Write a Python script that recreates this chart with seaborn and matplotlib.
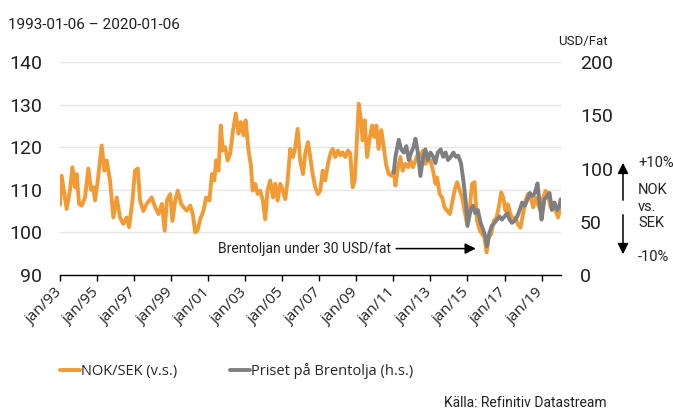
import matplotlib
matplotlib.use("Agg")
import pandas as pd
import matplotlib.pyplot as plt
import seaborn as sns

# NOK/SEK, left axis (decimal year -> index level)
nok_year = [
    1993.00, 1993.09, 1993.36, 1993.54, 1993.67, 1993.81, 1993.90,
    1994.03, 1994.17, 1994.35, 1994.53, 1994.68, 1994.80, 1994.89,
    1995.04, 1995.25, 1995.40, 1995.52, 1995.70, 1995.88,
    1996.06, 1996.24, 1996.42, 1996.60, 1996.73, 1996.91,
    1997.05, 1997.20, 1997.32, 1997.50, 1997.68, 1997.95,
    1998.14, 1998.32, 1998.50, 1998.65, 1998.77, 1998.95,
    1999.07, 1999.22, 1999.36, 1999.54, 1999.67, 1999.85,
    2000.03, 2000.17, 2000.30, 2000.42, 2000.57, 2000.75, 2000.89,
    2001.07, 2001.20, 2001.33, 2001.43, 2001.56, 2001.68, 2001.79, 2001.92,
    2002.05, 2002.19, 2002.33, 2002.49, 2002.64, 2002.76, 2002.91,
    2003.02, 2003.18, 2003.31, 2003.40, 2003.54, 2003.67, 2003.81, 2003.95,
    2004.08, 2004.20, 2004.35, 2004.50, 2004.62, 2004.75, 2004.89,
    2005.04, 2005.16, 2005.29, 2005.43, 2005.58, 2005.70, 2005.83, 2005.97,
    2006.12, 2006.24, 2006.39, 2006.51, 2006.64, 2006.78, 2006.93,
    2007.05, 2007.18, 2007.32, 2007.47, 2007.60, 2007.72, 2007.86,
    2008.01, 2008.13, 2008.26, 2008.40, 2008.55, 2008.67, 2008.80, 2008.91,
    2009.00, 2009.13, 2009.25, 2009.34, 2009.45, 2009.58, 2009.70, 2009.85, 2009.97,
    2010.08, 2010.20, 2010.35, 2010.48, 2010.60, 2010.75, 2010.89,
    2011.02, 2011.11, 2011.25, 2011.38, 2011.50, 2011.65, 2011.80, 2011.92,
    2012.05, 2012.20, 2012.33, 2012.46, 2012.59, 2012.73, 2012.88,
    2013.00, 2013.14, 2013.27, 2013.36, 2013.50, 2013.63, 2013.76, 2013.90,
    2014.05, 2014.17, 2014.30, 2014.44, 2014.59, 2014.71, 2014.84, 2014.98,
    2015.13, 2015.25, 2015.38, 2015.52, 2015.67, 2015.79, 2015.92,
    2016.03, 2016.15, 2016.28, 2016.42, 2016.57, 2016.69, 2016.82, 2016.93,
    2017.05, 2017.18, 2017.32, 2017.47, 2017.59, 2017.72, 2017.86,
    2018.00, 2018.13, 2018.26, 2018.41, 2018.55, 2018.68, 2018.80, 2018.95,
    2019.09, 2019.22, 2019.34, 2019.49, 2019.63, 2019.76, 2019.89,
    2020.03,
]
nok_value = [
    106.5, 113.3, 105.5, 110.0, 115.3, 110.6, 113.7,
    106.7, 106.3, 108.2, 115.0, 110.0, 110.6, 107.5,
    112.2, 120.4, 114.5, 116.9, 112.2, 103.5,
    108.2, 103.5, 102.0, 103.5, 101.2, 107.5,
    114.5, 115.0, 107.5, 105.0, 106.7, 108.2,
    105.9, 104.3, 106.7, 100.4, 107.5, 109.0,
    102.7, 107.5, 109.8, 106.7, 105.9, 105.1,
    106.3, 104.3, 100.0, 100.4, 103.1, 105.1, 108.2,
    107.5, 113.7, 112.2, 116.9, 114.5, 125.1, 119.2, 120.0,
    116.9, 118.5, 123.6, 127.9, 123.2, 125.9, 122.8,
    126.3, 119.2, 115.7, 109.8, 111.4, 109.0, 109.8, 107.5,
    103.1, 109.8, 112.2, 108.2, 111.4, 107.5, 111.4,
    109.8, 107.8, 112.2, 119.6, 117.7, 120.0, 124.3, 116.9,
    113.7, 118.5, 121.2, 117.7, 113.7, 110.6, 109.0,
    109.8, 114.5, 112.2, 116.1, 118.5, 119.6, 117.7,
    119.2, 118.1, 118.8, 117.7, 119.2, 118.5, 110.6, 112.2,
    119.2, 130.2, 126.3, 121.6, 126.3, 117.7, 121.6, 125.1, 122.4,
    125.1, 119.6, 124.0, 120.0, 116.1, 113.7, 113.3,
    114.5, 111.0, 115.3, 117.7, 114.5, 116.1, 115.3, 116.9,
    115.3, 116.9, 118.5, 117.7, 119.2, 116.1, 116.9,
    116.9, 114.5, 111.4, 112.9, 109.0, 108.2, 105.9, 105.1,
    104.3, 107.0, 109.8, 111.8, 109.8, 108.2, 105.1, 101.9,
    105.9, 111.4, 111.8, 102.7, 100.4, 99.6, 98.8,
    95.3, 98.8, 99.6, 102.7, 103.5, 105.9, 109.4, 108.2,
    105.1, 106.6, 104.3, 102.7, 103.5, 101.9, 101.1,
    104.3, 107.4, 109.0, 108.2, 105.9, 108.2, 106.6, 105.1,
    108.2, 109.8, 109.0, 105.9, 107.0, 105.1, 103.5,
    105.9,
]

# Brent crude, right axis (USD/fat)
brent_year = [
    2011.02, 2011.11, 2011.29, 2011.42, 2011.56, 2011.70, 2011.83, 2011.96,
    2012.10, 2012.19, 2012.32, 2012.46, 2012.61, 2012.73, 2012.86,
    2013.00, 2013.15, 2013.27, 2013.40, 2013.55, 2013.69, 2013.82, 2013.95,
    2014.10, 2014.24, 2014.37, 2014.50, 2014.65, 2014.80, 2014.93,
    2015.00, 2015.17, 2015.30, 2015.42, 2015.56, 2015.71, 2015.84, 2015.97,
    2016.05, 2016.19, 2016.31, 2016.46, 2016.60, 2016.73, 2016.86,
    2017.00, 2017.15, 2017.27, 2017.40, 2017.55, 2017.69, 2017.82, 2017.95,
    2018.10, 2018.24, 2018.37, 2018.50, 2018.64, 2018.78, 2018.91,
    2019.00, 2019.15, 2019.30, 2019.43, 2019.56, 2019.70, 2019.85, 2019.97,
    2020.03,
]
brent_value = [
    96, 111, 127, 118, 115, 121, 108, 115,
    121, 128, 115, 93, 111, 118, 108,
    115, 111, 105, 115, 118, 111, 115, 108,
    111, 115, 111, 112, 105, 86, 65,
    46, 61, 65, 58, 61, 49, 43, 36,
    27, 40, 46, 49, 52, 55, 52,
    55, 58, 52, 49, 51, 55, 61, 68,
    65, 71, 77, 74, 77, 86, 65,
    52, 71, 74, 77, 61, 68, 61, 65,
    71,
]

tick_years = list(range(1993, 2020, 2))
tick_labels = ["jan/%02d" % (y % 100) for y in tick_years]

orange = "#F29B35"
grey = "#7F7F82"
txt = "#222222"

sns.set_theme(style="white")
plt.rcParams['font.family'] = ['Roboto', 'DejaVu Sans']

W, H = 673, 409
fig = plt.figure(figsize=(W / 100, H / 100), dpi=100)
ax = fig.add_axes([60 / W, 1 - 275 / H, (561 - 60) / W, (275 - 62) / H])
ax2 = ax.twinx()

nok = pd.DataFrame({"year": nok_year, "value": nok_value})
brent = pd.DataFrame({"year": brent_year, "value": brent_value})

sns.lineplot(data=nok, x="year", y="value", ax=ax, color=orange, linewidth=2.8,
             label="NOK/SEK (v.s.)", legend=False)
sns.lineplot(data=brent, x="year", y="value", ax=ax2, color=grey, linewidth=2.8,
             label="Priset på Brentolja (h.s.)", legend=False)

ax.set_xlim(1993.0, 2020.05)
ax.set_ylim(90, 140)
ax.set_yticks(range(90, 141, 10))
ax2.set_ylim(0, 200)
ax2.set_yticks(range(0, 201, 50))
ax.set_xlabel("")
ax.set_ylabel("")
ax2.set_ylabel("")

ax.set_axisbelow(True)
ax.yaxis.grid(True, color="#e6e6e6", linewidth=1)
ax.xaxis.grid(False)
for a in (ax, ax2):
    for s in ("left", "right", "top"):
        a.spines[s].set_visible(False)
ax.spines["bottom"].set_color("black")
ax.spines["bottom"].set_linewidth(1)
ax2.spines["bottom"].set_visible(False)

ax.set_xticks(tick_years)
ax.set_xticklabels(tick_labels, rotation=45, ha="right", va="center",
                   rotation_mode="anchor", fontsize=11, family=["Open Sans", "DejaVu Sans"])
ax.tick_params(axis="x", length=4, width=1, color="black", direction="out",
               pad=7, labelcolor=txt, bottom=True)
ax.tick_params(axis="y", length=0, pad=13, labelsize=14, labelcolor=txt)
ax2.tick_params(axis="y", length=0, pad=13.7, labelsize=14, labelcolor=txt)

# annotation for the oil price dip
ax.text(2010.85, 96.2, "Brentoljan under 30 USD/fat", ha="right", va="center",
        fontsize=10, color=txt)
ax.annotate("", xy=(2015.45, 96.2), xytext=(2011.15, 96.2),
            arrowprops=dict(arrowstyle="-|>", color="black", lw=1.1,
                            mutation_scale=16, shrinkA=0, shrinkB=0))

# right side NOK vs SEK arrows
ax_x = 623 / W
fig.add_artist(matplotlib.patches.FancyArrowPatch(
    (ax_x, 1 - 203 / H), (ax_x, 1 - 160 / H), transform=fig.transFigure,
    arrowstyle="-|>", mutation_scale=16, color="black", lw=1.1))
fig.add_artist(matplotlib.patches.FancyArrowPatch(
    (ax_x, 1 - 212 / H), (ax_x, 1 - 257 / H), transform=fig.transFigure,
    arrowstyle="-|>", mutation_scale=16, color="black", lw=1.1))
tx = 638 / W
fig.text(tx, 1 - 163 / H, "+10%", fontsize=10.5, va="center", color=txt)
fig.text(tx, 1 - 190 / H, "NOK", fontsize=10.5, va="center", color=txt)
fig.text(tx, 1 - 207 / H, "vs.", fontsize=10.5, va="center", color=txt)
fig.text(tx, 1 - 223 / H, "SEK", fontsize=10.5, va="center", color=txt)
fig.text(tx, 1 - 257 / H, "-10%", fontsize=10.5, va="center", color=txt)

fig.text(8 / W, 1 - 25 / H, "1993-01-06 \u2013 2020-01-06", fontsize=11,
         va="center", color=txt)
fig.text(608 / W, 1 - 42 / H, "USD/Fat", fontsize=9.5, ha="right", va="center",
         color=txt)
fig.text(607 / W, 1 - 403 / H, "Källa: Refinitiv Datastream", fontsize=10,
         ha="right", va="center", color=txt)

h1, l1 = ax.get_legend_handles_labels()
h2, l2 = ax2.get_legend_handles_labels()
fig.legend(h1 + h2, l1 + l2, loc="center left", bbox_to_anchor=(60 / W, 1 - 371 / H),
           ncol=2, frameon=False, borderpad=0, borderaxespad=0, handlelength=1.35,
           handletextpad=0.1, columnspacing=3.6,
           prop={"family": ["Open Sans", "DejaVu Sans"], "size": 10.5})

fig.savefig("out.png", dpi=100)
